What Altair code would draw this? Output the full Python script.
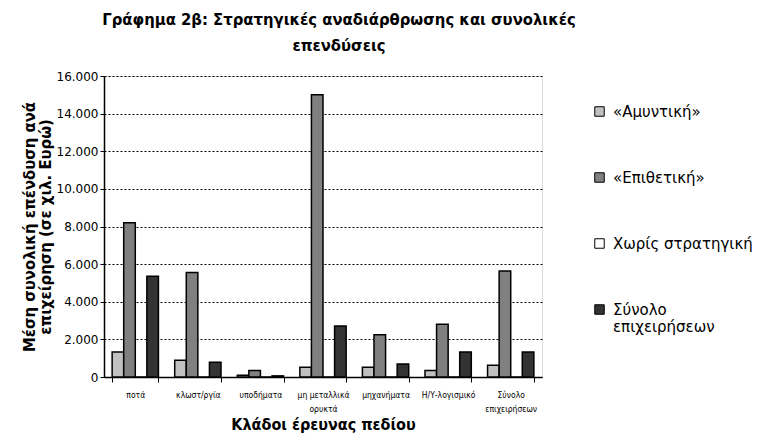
import altair as alt
import pandas as pd

categories = ["ποτά", "κλωστ/ργία", "υποδήματα", "μη μεταλλικά\nορυκτά",
              "μηχανήματα", "Η/Υ-λογισμικό", "Σύνολο\nεπιχειρήσεων"]
series_names = ["«Αμυντική»", "«Επιθετική»", "Χωρίς στρατηγική", "Σύνολο\nεπιχειρήσεων"]
amyntiki = [1330, 890, 90, 520, 520, 340, 620]
epithetiki = [8200, 5550, 340, 15000, 2250, 2800, 5640]
xoris = [0, 0, 0, 0, 0, 0, 0]
synolo = [5360, 780, 60, 2710, 690, 1330, 1330]
colors = ["#c0c0c0", "#808080", "#ffffff", "#333333"]

rows = []
for s, vals in zip(series_names, [amyntiki, epithetiki, xoris, synolo]):
    for c, v in zip(categories, vals):
        rows.append({"cat": c, "series": s, "value": v})
df = pd.DataFrame(rows)

FONT = "DejaVu Sans"
CFONT = "DejaVu Sans Condensed, Liberation Sans, sans-serif"

chart = alt.Chart(df).mark_bar(stroke="black", strokeWidth=1.5).encode(
    x=alt.X("cat:N", sort=categories,
            scale=alt.Scale(paddingInner=0.26, paddingOuter=0.13),
            axis=alt.Axis(title="Κλάδοι έρευνας πεδίου", labelAngle=0,
                          labelExpr="split(datum.label, '\\n')",
                          labelFontSize=8.5, labelFont=CFONT, labelColor="black",
                          labelPadding=8, labelLineHeight=14.5,
                          tickBand="extent", tickSize=5, tickColor="black",
                          domainColor="black", domainWidth=1.5,
                          titleFont=CFONT, titleFontSize=16, titleFontWeight="bold",
                          titleColor="black", titleY=47, titleBaseline="middle")),
    xOffset=alt.XOffset("series:N", sort=series_names),
    y=alt.Y("value:Q", scale=alt.Scale(domain=[0, 16000]),
            axis=alt.Axis(title=["Μέση συνολική επένδυση ανά", "επιχείρηση (σε χιλ. Ευρώ)"],
                          values=list(range(0, 16001, 2000)),
                          labelExpr="replace(format(datum.value, ','), ',', '.')",
                          labelFontSize=12, labelFont=FONT, labelColor="black",
                          tickColor="black", tickSize=4, domainColor="black", domainWidth=1.5,
                          gridColor="black", gridDash=[2, 2], gridWidth=1,
                          titleFont=CFONT, titleFontSize=16.5, titleFontWeight="bold",
                          titleColor="black", titlePadding=3, titleLineHeight=16)),
    color=alt.Color("series:N", sort=series_names,
                    scale=alt.Scale(domain=series_names, range=colors),
                    legend=alt.Legend(title=None, orient="none", legendX=488, legendY=28,
                                      labelExpr="split(datum.label, '\\n')",
                                      labelFont=FONT, labelFontSize=15, labelColor="black",
                                      labelLimit=200, rowPadding=50,
                                      symbolType="square", symbolSize=90,
                                      symbolStrokeColor="black", symbolStrokeWidth=1,
                                      labelOffset=6)),
).properties(
    width=438, height=301,
    title=alt.TitleParams(["Γράφημα 2β: Στρατηγικές αναδιάρθρωσης και συνολικές", "επενδύσεις"],
                          font=CFONT, fontSize=16.5, fontWeight="bold", color="black",
                          anchor="middle", frame="group", dx=16, offset=16, lineHeight=26),
    autosize=alt.AutoSizeParams(type="none"),
    padding={"left": 96, "top": 68, "right": 210, "bottom": 56},
).configure_view(stroke="#999999", strokeWidth=1.5).configure(background="white")

chart.save("out.html", embed_options={"renderer": "svg", "actions": False})
